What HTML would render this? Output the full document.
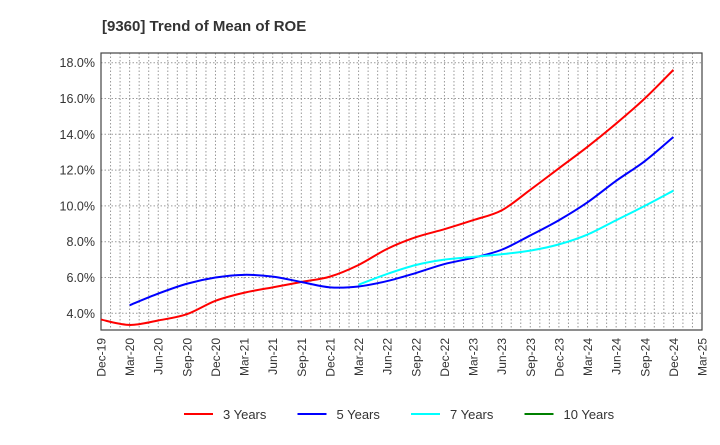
<!DOCTYPE html>
<html><head><meta charset="utf-8"><style>
body{margin:0;background:#fff;font-family:"Liberation Sans",Arial,sans-serif}
svg text{font-family:"Liberation Sans",Arial,sans-serif}
</style></head><body>
<svg id="chart" width="720" height="440">
<text x="102" y="31" font-size="15" font-weight="bold" fill="#333">[9360]  Trend of Mean of ROE</text>
<g id="grid"></g><g id="axes"></g><g id="series"></g><g id="legend"></g>
</svg>
<script>
const xLabels=["Dec-19","Mar-20","Jun-20","Sep-20","Dec-20","Mar-21","Jun-21","Sep-21","Dec-21","Mar-22","Jun-22","Sep-22","Dec-22","Mar-23","Jun-23","Sep-23","Dec-23","Mar-24","Jun-24","Sep-24","Dec-24","Mar-25"];
const yTicks=[4,6,8,10,12,14,16,18];
const s3=[3.65,3.35,3.6,3.95,4.7,5.15,5.45,5.75,6.05,6.7,7.6,8.25,8.7,9.2,9.75,10.9,12.1,13.3,14.6,16.0,17.6];
const s5=[null,4.45,5.1,5.65,6.0,6.15,6.05,5.75,5.45,5.5,5.8,6.25,6.75,7.1,7.55,8.35,9.2,10.2,11.4,12.5,13.85];
const s7=[null,null,null,null,null,null,null,null,null,5.6,6.2,6.7,7.0,7.15,7.3,7.5,7.85,8.4,9.2,10.0,10.85];
const s10=[];
const L=101,R=702,T=53,B=330;
const X=i=>L+i*(R-L)/21;
const Y=v=>313.3-(v-4)*(250.6/14);
const NS="http://www.w3.org/2000/svg";
function mk(tag,attrs,parent){const e=document.createElementNS(NS,tag);for(const k in attrs)e.setAttribute(k,attrs[k]);parent.appendChild(e);return e;}
const grid=document.getElementById('grid'),axes=document.getElementById('axes'),series=document.getElementById('series'),legend=document.getElementById('legend');
for(let m=1;m<63;m++){const x=L+m*(R-L)/63;const g=mk('line',{x1:x,x2:x,y1:T,y2:B,stroke:'#999','stroke-dasharray':'1.5,2','stroke-width':1},grid);

}
yTicks.forEach(v=>{const g=mk('line',{x1:L,x2:R,y1:Y(v),y2:Y(v),stroke:'#999','stroke-dasharray':'1.5,2','stroke-width':1},grid);


const t=mk('text',{x:L-6,y:Y(v)+4.5,'text-anchor':'end','font-size':12.5,fill:'#333'},axes);t.textContent=v.toFixed(1)+'%';

});
const fr=mk('rect',{x:L,y:T,width:R-L,height:B-T,fill:'none',stroke:'#444','stroke-width':1.2},axes);


xLabels.forEach((lb,i)=>{const x=X(i)+4.5;const t=mk('text',{x:0,y:0,transform:`translate(${x},338) rotate(-90)`,'text-anchor':'end','font-size':12,fill:'#333'},axes);t.textContent=lb;

});
function path(arr){const p=[];arr.forEach((v,i)=>{if(v!=null)p.push([X(i),Y(v)]);});if(p.length<2)return '';
let d=`M${p[0][0]},${p[0][1]}`;for(let i=0;i<p.length-1;i++){const p0=p[Math.max(0,i-1)],p1=p[i],p2=p[i+1],p3=p[Math.min(p.length-1,i+2)];
d+=` C${p1[0]+(p2[0]-p0[0])/6},${p1[1]+(p2[1]-p0[1])/6} ${p2[0]-(p3[0]-p1[0])/6},${p2[1]-(p3[1]-p1[1])/6} ${p2[0]},${p2[1]}`;}return d;}
const defs=[[s3,'#ff0000','3 Years','line-3-years'],[s5,'#0000ff','5 Years','line-5-years'],[s7,'#00ffff','7 Years','line-7-years'],[s10,'#008000','10 Years','line-10-years']];
defs.forEach(([a,c,n,nm],k)=>{const d=path(a);if(d){const pe=mk('path',{d:d,fill:'none',stroke:c,'stroke-width':2},series);

}
const lx=184+k*113.5;
const g=mk('g',{},legend);


mk('line',{x1:lx,x2:lx+29,y1:414,y2:414,stroke:c,'stroke-width':2},g);
const t=mk('text',{x:lx+39,y:419,'font-size':13,fill:'#333'},g);t.textContent=n;});
</script>
</body></html>
